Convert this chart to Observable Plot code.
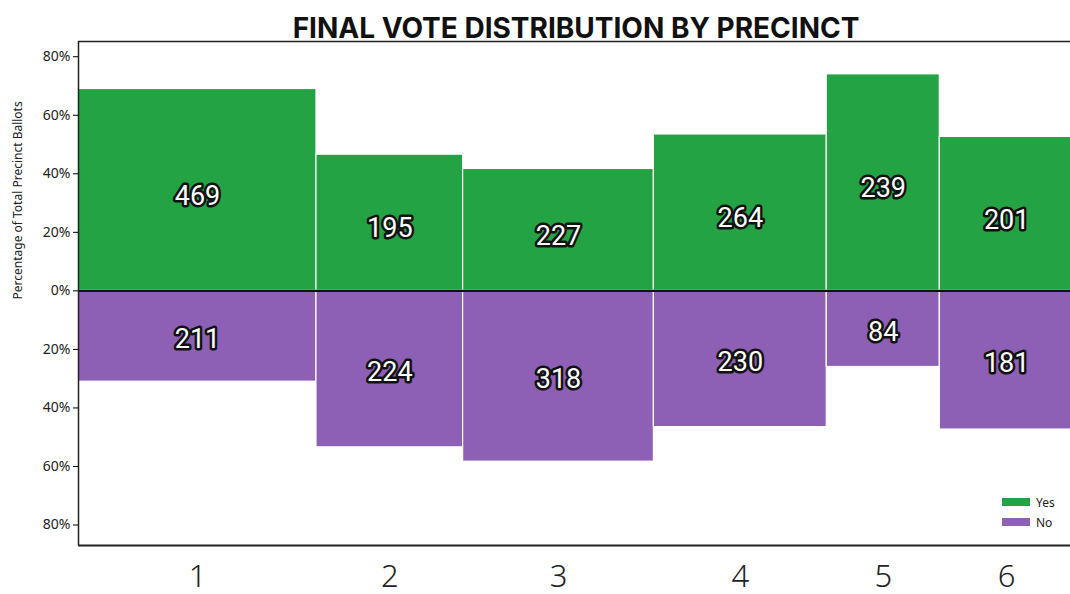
<!DOCTYPE html>
<html>
<head>
<meta charset="utf-8">
<script src="https://cdn.jsdelivr.net/npm/d3@7"></script>
<script src="https://cdn.jsdelivr.net/npm/@observablehq/plot@0.6"></script>
<style>
  html, body { margin: 0; padding: 0; background: #fff; }
  #wrap { position: relative; width: 1070px; height: 594px; overflow: hidden; }
  .legend { position: absolute; left: 1002px; top: 492px; font: 12px "Noto Sans", sans-serif; color: #222; }
  .legend div { display: flex; align-items: center; height: 20px; }
  .legend span.sw { display: inline-block; width: 28px; height: 8px; margin-right: 6px; }
</style>
</head>
<body>
<div id="wrap"></div>
<script>
const precincts = ["1", "2", "3", "4", "5", "6"];
const yesVotes = [469, 195, 227, 264, 239, 201];
const noVotes = [211, 224, 318, 230, 84, 181];
const yTicks = [-80, -60, -40, -20, 0, 20, 40, 60, 80];
const title = "FINAL VOTE DISTRIBUTION BY PRECINCT";
const yLabel = "Percentage of Total Precinct Ballots";
const seriesNames = ["Yes", "No"];
const colors = ["#24a344", "#8d5fb5"];

// build table
let cum = 0;
const rows = precincts.map((p, i) => {
  const total = yesVotes[i] + noVotes[i];
  const r = {
    precinct: p,
    x1: cum,
    x2: cum + total,
    mid: cum + total / 2,
    yesPct: yesVotes[i] / total * 100,
    noPct: -noVotes[i] / total * 100,
    yes: yesVotes[i],
    no: noVotes[i]
  };
  cum += total;
  return r;
});
const grandTotal = cum;
const labelFont = "Roboto, 'Liberation Sans', sans-serif";

const chart = Plot.plot({
  width: 1070,
  height: 594,
  marginTop: 41,
  marginBottom: 49,
  marginLeft: 78,
  marginRight: -3,
  style: { background: "#fff", fontFamily: "'Noto Sans', sans-serif" },
  x: { domain: [0, grandTotal], axis: null },
  y: { domain: [-87, 85.2], axis: null },
  marks: [
    Plot.rectY(rows, { x1: "x1", x2: "x2", y1: 0, y2: "yesPct", fill: colors[0], stroke: "white", strokeWidth: 1.2 }),
    Plot.rectY(rows, { x1: "x1", x2: "x2", y1: 0, y2: "noPct", fill: colors[1], stroke: "white", strokeWidth: 1.2 }),
    Plot.ruleY([0], { stroke: "#111", strokeWidth: 2.2 }),
    Plot.ruleY([85.2], { stroke: "#222", strokeWidth: 1.5 }),
    Plot.ruleY([-87], { stroke: "#222", strokeWidth: 2 }),
    Plot.ruleX([0], { stroke: "#222", strokeWidth: 1.5 }),
    Plot.axisY({ ticks: yTicks, tickFormat: d => Math.abs(d) + "%", tickSize: 5, fontSize: 14, fill: "#222", label: null, tickPadding: 3 }),
    Plot.text([yLabel], { frameAnchor: "left", dx: -60, dy: 6, rotate: -90, fontSize: 12, fill: "#222" }),
    Plot.text(rows, { x: "mid", y: d => d.yesPct / 2, dy: 6, text: d => String(d.yes), fontSize: 27, fontFamily: labelFont, fill: "white", stroke: "#111", strokeWidth: 5, strokeLinejoin: "round", paintOrder: "stroke" }),
    Plot.text(rows, { x: "mid", y: d => d.noPct / 2, dy: 3, text: d => String(d.no), fontSize: 27, fontFamily: labelFont, fill: "white", stroke: "#111", strokeWidth: 5, strokeLinejoin: "round", paintOrder: "stroke" }),
    Plot.text(rows, { x: "mid", frameAnchor: "bottom", text: "precinct", dy: 41, fontSize: 31, fill: "#222", fontWeight: 300, fontFamily: "'Noto Sans', sans-serif" }),
    Plot.text([title], { frameAnchor: "top", dy: -23, fontSize: 28, fontWeight: "bold", fill: "#111", fontFamily: "Inter, 'Noto Sans', sans-serif" })
  ]
});

const wrap = document.getElementById("wrap");
wrap.appendChild(chart);
const leg = document.createElement("div");
leg.className = "legend";
seriesNames.forEach((n, i) => {
  const row = document.createElement("div");
  const sw = document.createElement("span");
  sw.className = "sw";
  sw.style.background = colors[i];
  row.appendChild(sw);
  row.appendChild(document.createTextNode(n));
  leg.appendChild(row);
});
wrap.appendChild(leg);
</script>
</body>
</html>
